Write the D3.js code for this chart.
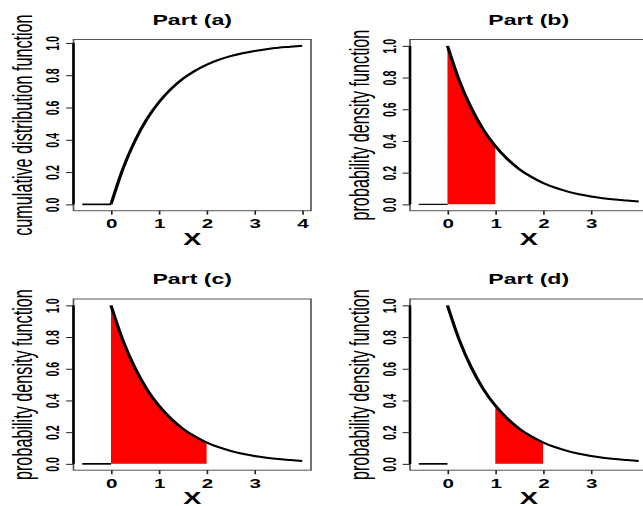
<!DOCTYPE html>
<html>
<head>
<meta charset="utf-8">
<script src="https://cdn.jsdelivr.net/npm/d3@7/dist/d3.min.js"></script>
<style>
  html, body { margin: 0; padding: 0; background: #fff; }
  svg { display: block; }
  text { font-family: "Liberation Sans", Arial, Helvetica, sans-serif; fill: #000; }
</style>
</head>
<body>
<svg id="chart" width="643" height="506"></svg>
<script>
// Exponential(1) distribution: CDF and density panels, 2 x 2 layout.
const panelTitles = ["Part (a)", "Part (b)", "Part (c)", "Part (d)"];
const yAxisTitles = [
  "cumulative distribution function",
  "probability density function",
  "probability density function",
  "probability density function"
];
const xAxisTitle = "X";

// sample points of the curves
const xGrid = [0, 0.25, 0.5, 0.75, 1, 1.25, 1.5, 1.75, 2, 2.25, 2.5, 2.75, 3, 3.25, 3.5, 3.75, 4];
const cdfValues = [0, 0.221, 0.393, 0.528, 0.632, 0.713, 0.777, 0.826, 0.865, 0.895, 0.918, 0.936, 0.950, 0.961, 0.970, 0.976, 0.982];
const pdfValues = [1, 0.779, 0.607, 0.472, 0.368, 0.287, 0.223, 0.174, 0.135, 0.105, 0.082, 0.064, 0.050, 0.039, 0.030, 0.024, 0.018];

// zero segment to the left of the support
const zeroSegmentX = [-0.6, 0];

// shaded probability intervals (none in panel a)
const shadeFrom = [null, 0, 0, 1];
const shadeTo = [null, 1, 2, 2];

// axis ticks
const xTicksCdf = [0, 1, 2, 3, 4];
const xTicksPdf = [0, 1, 2, 3];
const yTicks = [0, 0.2, 0.4, 0.6, 0.8, 1.0];
const yTickLabels = ["0.0", "0.2", "0.4", "0.6", "0.8", "1.0"];

// the whole drawing is laid out in a horizontally widened frame
const SX = 1.65;
const svg = d3.select("#chart");
const root = svg.append("g").attr("transform", `scale(${SX},1)`);

// plot-region boxes in page pixels
const boxes = [
  { left: 73.5, right: 311,   top: 39.5, bottom: 210.7 },
  { left: 410,  right: 647.5, top: 39.5, bottom: 210.7 },
  { left: 73.5, right: 311,   top: 299,  bottom: 470.2 },
  { left: 410,  right: 647.5, top: 299,  bottom: 470.2 }
];

const pad = (lo, hi) => { const d = (hi - lo) * 0.04; return [lo - d, hi + d]; };

boxes.forEach((b, i) => {
  const isCdf = i === 0;
  const values = isCdf ? cdfValues : pdfValues;
  const pts = xGrid.map((x, k) => ({ x, y: values[k] }));

  const xDom = pad(zeroSegmentX[0], d3.max(xGrid));
  const yDom = pad(0, d3.max(values));
  const x = d3.scaleLinear().domain(xDom).range([b.left / SX, b.right / SX]);
  const y = d3.scaleLinear().domain(yDom).range([b.bottom, b.top]);

  const g = root.append("g");

  // shaded area under the density
  if (shadeFrom[i] !== null) {
    const sub = pts.filter(p => p.x >= shadeFrom[i] - 1e-9 && p.x <= shadeTo[i] + 1e-9);
    g.append("path")
      .datum(sub)
      .attr("fill", "#ff0000")
      .attr("stroke", "none")
      .attr("d", d3.area().x(p => x(p.x)).y0(y(0)).y1(p => y(p.y)).curve(d3.curveMonotoneX));
  }

  // zero segment for x < 0
  g.append("path")
    .datum(zeroSegmentX.map(v => ({ x: v, y: 0 })))
    .attr("fill", "none")
    .attr("stroke", "#000")
    .attr("stroke-width", i === 1 ? 1.2 : 1.7)
    .attr("d", d3.line().x(p => x(p.x)).y(p => y(p.y)));

  // main curve
  g.append("path")
    .datum(pts)
    .attr("fill", "none")
    .attr("stroke", "#000")
    .attr("stroke-width", 2)
    .attr("stroke-linejoin", "round")
    .attr("d", d3.line().x(p => x(p.x)).y(p => y(p.y)).curve(d3.curveMonotoneX));

  // plot box
  g.append("rect")
    .attr("x", b.left / SX).attr("y", b.top)
    .attr("width", (b.right - b.left) / SX).attr("height", b.bottom - b.top)
    .attr("fill", "none").attr("stroke", "#555").attr("stroke-width", 1);

  // left axis
  const yAxis = g.append("g")
    .attr("transform", `translate(${b.left / SX},0)`)
    .call(d3.axisLeft(y).tickValues(yTicks).tickSize(4.5).tickFormat(() => ""));
  yAxis.select(".domain").attr("d", `M0,${y(0)}V${y(1)}`).attr("stroke", "#000").attr("stroke-width", 1.6);
  yAxis.selectAll(".tick line").attr("stroke", "#222");
  yAxis.selectAll(".tick")
    .append("text")
    .attr("transform", "translate(-8.6,0) rotate(-90)")
    .attr("text-anchor", "middle")
    .attr("font-size", 10.6)
    .attr("font-weight", "bold")
    .text((d, k) => yTickLabels[k]);

  // bottom axis
  const xt = isCdf ? xTicksCdf : xTicksPdf;
  const xAxis = g.append("g")
    .attr("transform", `translate(0,${b.bottom})`)
    .call(d3.axisBottom(x).tickValues(xt).tickSize(4).tickFormat(d3.format("d")));
  xAxis.select(".domain").remove();
  xAxis.selectAll(".tick line").attr("stroke", "#222");
  xAxis.selectAll(".tick text")
    .attr("y", 17.6).attr("dy", null)
    .attr("font-size", 12.5)
    .attr("font-weight", "bold")
    .attr("font-family", "'Liberation Sans', Arial, sans-serif")
    .attr("fill", "#000");

  const cx = (b.left + b.right) / 2 / SX;
  const cy = (b.top + b.bottom) / 2;

  // panel title
  g.append("text")
    .attr("x", cx).attr("y", b.top - 14.5)
    .attr("text-anchor", "middle")
    .attr("font-size", 14).attr("font-weight", "bold")
    .text(panelTitles[i]);

  // x axis title
  g.append("text")
    .attr("x", cx).attr("y", b.bottom + 34)
    .attr("text-anchor", "middle")
    .attr("font-size", 16.5).attr("font-weight", "bold")
    .text(xAxisTitle);

  // y axis title
  g.append("text")
    .attr("transform", `translate(${(b.left - 41.5) / SX},${cy}) rotate(-90)`)
    .attr("text-anchor", "middle")
    .attr("font-size", 16.2)
    .text(yAxisTitles[i]);
});
</script>
</body>
</html>
